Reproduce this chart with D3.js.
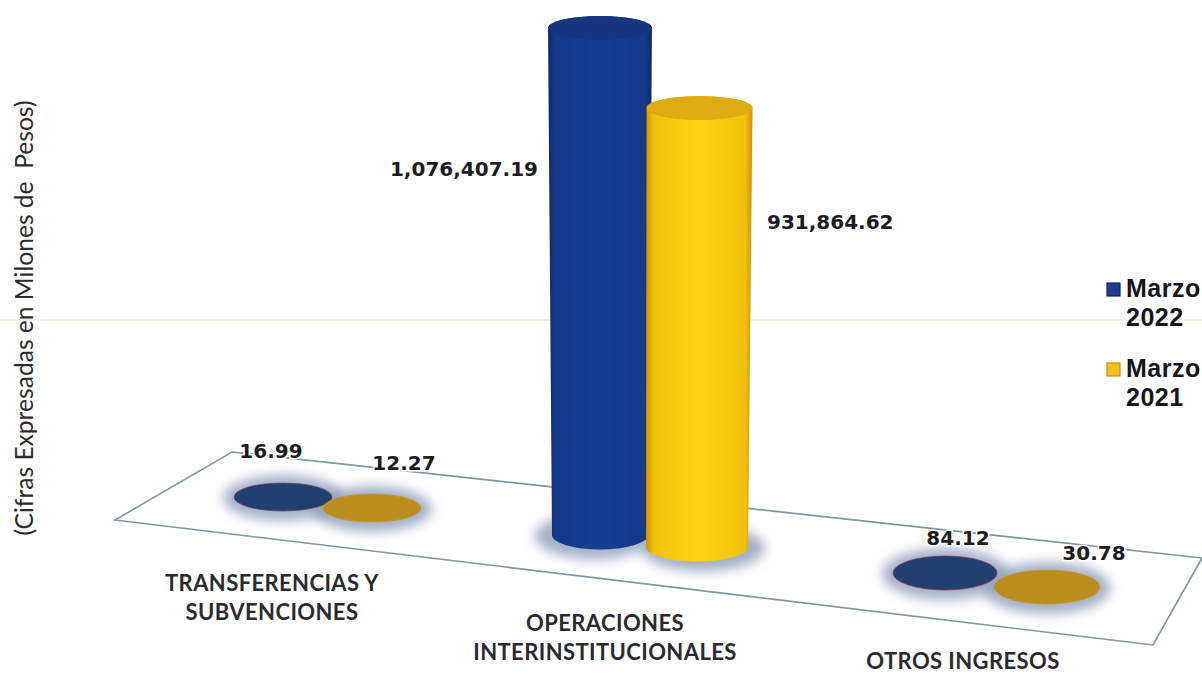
<!DOCTYPE html>
<html>
<head>
<meta charset="utf-8">
<script src="https://cdn.jsdelivr.net/npm/d3@7"></script>
<style>
  html, body { margin: 0; padding: 0; background: #fff; }
  svg { display: block; }
  .val { font-family: "DejaVu Sans", sans-serif; font-weight: 700; font-size: 20px; fill: #1c1c22; stroke: #fff; stroke-width: 3px; paint-order: stroke; }
  .cat { font-family: Lato, sans-serif; font-weight: 700; font-size: 22px; letter-spacing: 0.4px; fill: #2a2a30; text-anchor: middle; }
  .leg { font-family: "Liberation Sans", sans-serif; font-weight: 700; font-size: 25px; letter-spacing: 0.5px; fill: #16161c; }
  .ytitle { font-family: Lato, sans-serif; font-size: 24.6px; fill: #2c2c30; text-anchor: middle; }
</style>
</head>
<body>
<svg id="svg" width="1202" height="675"></svg>
<script>
// ----- Data -----
const categories = [["TRANSFERENCIAS Y", "SUBVENCIONES"], ["OPERACIONES", "INTERINSTITUCIONALES"], ["OTROS INGRESOS"]];
const seriesNames = ["Marzo 2022", "Marzo 2021"];
const marzo2022 = [16.99, 1076407.19, 84.12];
const marzo2021 = [12.27, 931864.62, 30.78];
const yTitle = "(Cifras Expresadas en Milones de  Pesos)";

const svg = d3.select("#svg");
const W = 1202, H = 675;
const fmt = d3.format(",.2f");

// ----- Scales: floor is in perspective, so each category has its own spot -----
const heightScale = d3.scaleLinear().domain([0, 1076407.19]).range([0, 507]);
const idx = [0, 1, 2];
const baseX = [
  d3.scaleLinear().domain(idx).range([283, 600, 945]),
  d3.scaleLinear().domain(idx).range([372, 697, 1047])
];
const baseY = [
  d3.scaleLinear().domain(idx).range([497, 535, 573]),
  d3.scaleLinear().domain(idx).range([508, 547, 587])
];
const rxScale = [
  d3.scaleLinear().domain(idx).range([49, 48, 52]),
  d3.scaleLinear().domain(idx).range([49, 51, 53])
];
const ryScale = d3.scaleLinear().domain(idx).range([14, 14.5, 17]);

// label offsets from base of the mark
const labelAnchor = [["middle", "end", "middle"], ["middle", "start", "middle"]];
const labelDx = [[-12, -62, 13], [32, 70, 47]];
const labelDy = [[-39, null, -28], [-38, null, -27]];

const styles = [
  { edge: "#0e2a66", mid: "#163f93", cap: "#15377f", flat: "#213f6f", rim: "#8a3a5f" },
  { edge: "#cf9008", mid: "#fdd20f", cap: "#deac10", flat: "#ba8e1e", rim: "#c9982a" }
];

// ----- Defs -----
const defs = svg.append("defs");
defs.append("filter").attr("id", "blur").attr("x", "-40%").attr("y", "-80%").attr("width", "180%").attr("height", "260%")
  .append("feGaussianBlur").attr("stdDeviation", 6);

styles.forEach((s, i) => {
  const g = defs.append("linearGradient").attr("id", "cyl" + i);
  g.append("stop").attr("offset", "0%").attr("stop-color", s.edge);
  g.append("stop").attr("offset", "7%").attr("stop-color", d3.interpolateRgb(s.edge, s.mid)(0.75));
  g.append("stop").attr("offset", "50%").attr("stop-color", s.mid);
  g.append("stop").attr("offset", "93%").attr("stop-color", d3.interpolateRgb(s.edge, s.mid)(0.75));
  g.append("stop").attr("offset", "100%").attr("stop-color", s.edge);
});

svg.append("rect").attr("width", W).attr("height", H).attr("fill", "#fff");

// ----- Floor and the pale horizontal rule -----
svg.append("line").attr("x1", 0).attr("x2", W).attr("y1", 320).attr("y2", 320)
  .attr("stroke", "#e8e2c6").attr("stroke-width", 1.2);

const floor = [[115, 520], [232, 452], [1202, 558], [1153, 645]];
svg.append("path")
  .attr("d", d3.line()(floor) + "Z")
  .attr("fill", "none")
  .attr("stroke", "#7d98a4")
  .attr("stroke-width", 1.6);

// ----- Cylinders -----
function cylinderPath(cxB, cxT, by, rxB, ryB, rxT, ryT, h) {
  const ty = by - h;
  return `M${cxT - rxT},${ty} L${cxB - rxB},${by} A${rxB},${ryB} 0 0 0 ${cxB + rxB},${by} L${cxT + rxT},${ty} A${rxT},${ryT} 0 0 0 ${cxT - rxT},${ty} Z`;
}

const allSeries = [marzo2022, marzo2021];
const groups = svg.append("g");

idx.forEach(c => {
  allSeries.forEach((vals, s) => {
    const x = baseX[s](c), y = baseY[s](c), rx = rxScale[s](c), ry = ryScale(c);
    groups.append("ellipse")
      .attr("cx", x + (vals[c] > 1000 ? (s ? 6 : -6) : 0)).attr("cy", y + 1)
      .attr("rx", rx + 11).attr("ry", ry + 9)
      .attr("fill", "#8f9cb8").attr("opacity", 0.8)
      .attr("filter", "url(#blur)");
  });
});

idx.forEach(c => {
  allSeries.forEach((vals, s) => {
    const st = styles[s];
    const x = baseX[s](c), y = baseY[s](c), rx = rxScale[s](c), ry = ryScale(c);
    const h = heightScale(vals[c]);
    if (h > 5) {
      const rxT = rx + (s ? 2 : 4);
      const cxT = x + (s ? 2.5 : 0);
      groups.append("path")
        .attr("d", cylinderPath(x, cxT, y, rx, ry, rxT, 12, h))
        .attr("fill", `url(#cyl${s})`);
      groups.append("ellipse")
        .attr("cx", cxT).attr("cy", y - h)
        .attr("rx", rxT).attr("ry", 12)
        .attr("fill", st.cap);
    } else {
      groups.append("ellipse")
        .attr("cx", x).attr("cy", y)
        .attr("rx", rx).attr("ry", ry)
        .attr("fill", st.flat)
        .attr("stroke", st.rim).attr("stroke-width", 0.7);
    }
  });
});

// ----- Value labels -----
allSeries.forEach((vals, s) => {
  vals.forEach((v, c) => {
    const big = labelDy[s][c] === null;
    const x = baseX[s](c) + labelDx[s][c];
    const y = big ? (s ? 229 : 176) : baseY[s](c) + labelDy[s][c];
    svg.append("text").attr("class", "val")
      .attr("x", x).attr("y", y)
      .attr("text-anchor", labelAnchor[s][c])
      .text(fmt(v));
  });
});

// ----- Category labels -----
const catX = [272, 605, 963];
const catY = [591, 631, 669];
categories.forEach((lines, c) => {
  lines.forEach((t, i) => {
    svg.append("text").attr("class", "cat")
      .attr("x", catX[c]).attr("y", catY[c] + i * 29)
      .text(t);
  });
});

// ----- Y title -----
svg.append("text").attr("class", "ytitle")
  .attr("transform", "translate(33,318) rotate(-90)")
  .style("white-space", "pre")
  .text(yTitle);

// ----- Legend -----
const legY = [297, 377];
seriesNames.forEach((name, i) => {
  const st = styles[i];
  const [a, b] = name.split(" ");
  svg.append("rect")
    .attr("x", 1107).attr("y", legY[i] - 14).attr("width", 13).attr("height", 13)
    .attr("fill", i ? "#f2c21a" : "#1f3f92")
    .attr("stroke", st.edge).attr("stroke-width", 1.2);
  svg.append("text").attr("class", "leg").attr("x", 1126).attr("y", legY[i]).text(a);
  svg.append("text").attr("class", "leg").attr("x", 1126).attr("y", legY[i] + 29).text(b);
});
</script>
</body>
</html>
